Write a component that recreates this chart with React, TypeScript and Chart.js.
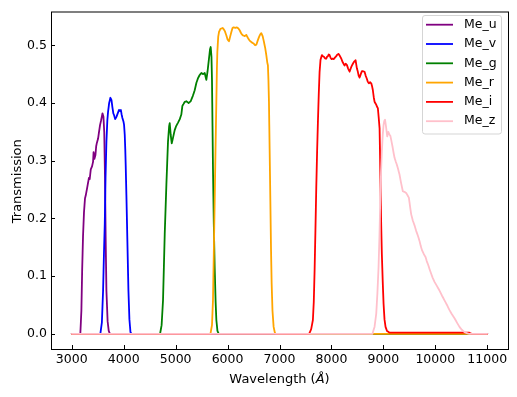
import { useEffect, useRef } from 'react';
import { Chart, registerables } from 'chart.js';

Chart.register(...registerables);

const xTickValues = [3000, 4000, 5000, 6000, 7000, 8000, 9000, 10000, 11000];
const yTickValues = [0, 0.1, 0.2, 0.3, 0.4, 0.5];
const seriesNames = ['Me_u', 'Me_v', 'Me_g', 'Me_r', 'Me_i', 'Me_z'];
const seriesColors = ['#800080', '#0000ff', '#008000', '#ffa500', '#ff0000', '#ffc0cb'];

const uWave = [3000, 3165, 3185, 3200, 3217, 3235, 3255, 3270, 3290, 3314, 3330, 3345, 3366, 3390, 3410, 3420, 3435, 3456, 3470, 3481, 3506, 3525, 3545, 3565, 3591, 3610, 3625, 3640, 3652, 3667, 3690, 3712, 3735, 11000];
const uTrans = [0, 0, 0.04, 0.11, 0.17, 0.21, 0.235, 0.24, 0.25, 0.262, 0.27, 0.268, 0.285, 0.29, 0.298, 0.315, 0.303, 0.31, 0.325, 0.33, 0.338, 0.35, 0.362, 0.37, 0.382, 0.376, 0.35, 0.27, 0.17, 0.075, 0.022, 0.005, 0, 0];

const vWave = [3000, 3550, 3580, 3603, 3620, 3635, 3650, 3667, 3685, 3699, 3720, 3744, 3765, 3782, 3800, 3814, 3835, 3860, 3885, 3910, 3930, 3945, 3960, 3975, 3995, 4007, 4020, 4030, 4039, 4052, 4064, 4078, 4091, 4110, 4130, 4150, 11000];
const vTrans = [0, 0, 0.02, 0.075, 0.14, 0.19, 0.27, 0.333, 0.37, 0.385, 0.4, 0.409, 0.405, 0.393, 0.382, 0.379, 0.372, 0.376, 0.382, 0.388, 0.386, 0.388, 0.38, 0.374, 0.368, 0.362, 0.345, 0.32, 0.29, 0.24, 0.19, 0.13, 0.075, 0.025, 0.003, 0, 0];

const gWave = [3000, 4700, 4730, 4757, 4790, 4822, 4853, 4875, 4886, 4905, 4925, 4950, 4982, 5010, 5046, 5080, 5110, 5130, 5150, 5175, 5207, 5250, 5290, 5330, 5367, 5400, 5431, 5460, 5495, 5525, 5560, 5591, 5615, 5640, 5662, 5675, 5690, 5700, 5710, 5719, 5735, 5752, 5770, 5784, 5805, 5830, 11000];
const gTrans = [0, 0, 0.015, 0.058, 0.173, 0.259, 0.333, 0.36, 0.365, 0.345, 0.33, 0.34, 0.353, 0.36, 0.366, 0.372, 0.38, 0.395, 0.398, 0.402, 0.403, 0.4, 0.403, 0.412, 0.422, 0.435, 0.443, 0.448, 0.452, 0.45, 0.452, 0.44, 0.455, 0.475, 0.493, 0.497, 0.48, 0.44, 0.36, 0.287, 0.19, 0.115, 0.055, 0.024, 0.005, 0, 0];

const rWave = [3000, 5670, 5700, 5719, 5735, 5752, 5768, 5784, 5795, 5803, 5820, 5835, 5860, 5880, 5905, 5925, 5950, 5977, 6000, 6027, 6050, 6073, 6095, 6117, 6150, 6181, 6210, 6233, 6265, 6296, 6330, 6361, 6390, 6425, 6465, 6502, 6530, 6554, 6580, 6605, 6630, 6650, 6675, 6700, 6725, 6746, 6765, 6777, 6787, 6797, 6810, 6824, 6836, 6849, 6865, 6887, 6910, 6930, 11000];
const rTrans = [0, 0, 0.015, 0.058, 0.14, 0.23, 0.32, 0.402, 0.46, 0.488, 0.515, 0.523, 0.528, 0.529, 0.53, 0.528, 0.524, 0.517, 0.51, 0.507, 0.515, 0.523, 0.53, 0.531, 0.53, 0.531, 0.529, 0.526, 0.52, 0.517, 0.516, 0.518, 0.513, 0.508, 0.505, 0.503, 0.5, 0.501, 0.508, 0.514, 0.519, 0.521, 0.516, 0.506, 0.495, 0.483, 0.47, 0.465, 0.44, 0.402, 0.32, 0.23, 0.15, 0.087, 0.04, 0.012, 0.002, 0, 0];

const iWave = [3000, 7570, 7610, 7643, 7660, 7676, 7692, 7708, 7724, 7740, 7756, 7772, 7790, 7817, 7835, 7856, 7880, 7901, 7915, 7932, 7948, 7964, 7985, 8003, 8025, 8047, 8070, 8093, 8115, 8138, 8165, 8189, 8220, 8253, 8275, 8297, 8320, 8349, 8380, 8413, 8440, 8465, 8490, 8509, 8525, 8542, 8565, 8586, 8610, 8638, 8660, 8682, 8700, 8721, 8745, 8767, 8785, 8798, 8815, 8831, 8850, 8863, 8880, 8894, 8910, 8927, 8936, 8946, 8958, 8971, 8988, 9004, 9022, 9042, 9070, 9119, 10650, 10700, 11000];
const iTrans = [0, 0, 0.008, 0.024, 0.055, 0.11, 0.18, 0.253, 0.315, 0.368, 0.415, 0.454, 0.475, 0.483, 0.481, 0.48, 0.477, 0.477, 0.48, 0.481, 0.484, 0.483, 0.478, 0.476, 0.477, 0.476, 0.479, 0.481, 0.484, 0.485, 0.481, 0.477, 0.47, 0.465, 0.468, 0.466, 0.46, 0.454, 0.462, 0.468, 0.472, 0.474, 0.46, 0.454, 0.447, 0.444, 0.45, 0.455, 0.455, 0.454, 0.447, 0.442, 0.437, 0.434, 0.436, 0.434, 0.428, 0.422, 0.41, 0.402, 0.399, 0.397, 0.393, 0.391, 0.375, 0.356, 0.31, 0.253, 0.19, 0.138, 0.09, 0.052, 0.025, 0.012, 0.005, 0.002, 0.002, 0, 0];

const zWave = [3000, 8790, 8830, 8863, 8885, 8907, 8925, 8940, 8955, 8971, 8988, 9004, 9018, 9032, 9050, 9074, 9095, 9119, 9135, 9151, 9175, 9200, 9215, 9240, 9260, 9285, 9311, 9340, 9375, 9407, 9440, 9465, 9491, 9515, 9536, 9568, 9600, 9633, 9665, 9696, 9720, 9748, 9780, 9812, 9835, 9857, 9890, 9921, 9950, 9985, 10030, 10081, 10130, 10177, 10225, 10274, 10320, 10370, 10420, 10466, 10510, 10562, 10610, 10660, 11000];
const zTrans = [0, 0, 0.012, 0.035, 0.07, 0.115, 0.17, 0.23, 0.28, 0.316, 0.345, 0.362, 0.369, 0.371, 0.36, 0.342, 0.35, 0.345, 0.343, 0.336, 0.325, 0.312, 0.305, 0.298, 0.293, 0.285, 0.276, 0.262, 0.247, 0.246, 0.244, 0.24, 0.236, 0.22, 0.207, 0.196, 0.188, 0.178, 0.17, 0.161, 0.152, 0.144, 0.138, 0.133, 0.126, 0.121, 0.112, 0.104, 0.097, 0.09, 0.083, 0.075, 0.066, 0.058, 0.05, 0.041, 0.034, 0.027, 0.019, 0.012, 0.007, 0.003, 0.001, 0, 0];

const FONT = "'DejaVu Sans', sans-serif";

const framePlugin = {
  id: 'mplFrame',
  afterDatasetsDraw(chart: any) {
    const { ctx, chartArea } = chart;
    const { left, right, top, bottom } = chartArea;
    ctx.save();
    ctx.strokeStyle = '#000';
    ctx.lineWidth = 1;
    ctx.strokeRect(left + 0.5, top + 0.5, right - left, bottom - top);
    const xs = chart.scales.x;
    const ys = chart.scales.y;
    ctx.beginPath();
    xTickValues.forEach((v) => {
      const px = Math.round(xs.getPixelForValue(v)) + 0.5;
      ctx.moveTo(px, bottom);
      ctx.lineTo(px, bottom - 4);
    });
    yTickValues.forEach((v) => {
      const py = Math.round(ys.getPixelForValue(v)) + 0.5;
      ctx.moveTo(left, py);
      ctx.lineTo(left + 4, py);
    });
    ctx.stroke();
    ctx.restore();
  },
};

const titlesPlugin = {
  id: 'mplTitles',
  afterDraw(chart: any) {
    const { ctx, chartArea } = chart;
    ctx.save();
    ctx.fillStyle = '#000';
    const cx = (chartArea.left + chartArea.right) / 2;
    const base = 383;
    const part1 = 'Wavelength (';
    const part2 = 'Å';
    const part3 = ')';
    ctx.font = `13px ${FONT}`;
    const w1 = ctx.measureText(part1).width;
    const w3 = ctx.measureText(part3).width;
    ctx.font = `oblique 13px ${FONT}`;
    const w2 = ctx.measureText(part2).width;
    let x = cx - (w1 + w2 + w3) / 2;
    ctx.textBaseline = 'alphabetic';
    ctx.textAlign = 'left';
    ctx.font = `13px ${FONT}`;
    ctx.fillText(part1, x, base);
    x += w1;
    ctx.font = `oblique 13px ${FONT}`;
    ctx.fillText(part2, x, base);
    x += w2;
    ctx.font = `13px ${FONT}`;
    ctx.fillText(part3, x, base);

    ctx.translate(20.5, (chartArea.top + chartArea.bottom) / 2 + 1);
    ctx.rotate(-Math.PI / 2);
    ctx.textAlign = 'center';
    ctx.fillText('Transmission', 0, 0);
    ctx.restore();
  },
};

const legendPlugin = {
  id: 'mplLegend',
  afterDraw(chart: any) {
    const { ctx } = chart;
    ctx.save();
    const x0 = 422.5;
    const y0 = 15.5;
    const w = 79;
    const h = 118.5;
    const r = 2.5;
    ctx.beginPath();
    ctx.moveTo(x0 + r, y0);
    ctx.lineTo(x0 + w - r, y0);
    ctx.arcTo(x0 + w, y0, x0 + w, y0 + r, r);
    ctx.lineTo(x0 + w, y0 + h - r);
    ctx.arcTo(x0 + w, y0 + h, x0 + w - r, y0 + h, r);
    ctx.lineTo(x0 + r, y0 + h);
    ctx.arcTo(x0, y0 + h, x0, y0 + h - r, r);
    ctx.lineTo(x0, y0 + r);
    ctx.arcTo(x0, y0, x0 + r, y0, r);
    ctx.closePath();
    ctx.fillStyle = 'rgba(255,255,255,0.8)';
    ctx.fill();
    ctx.strokeStyle = '#d5d5d5';
    ctx.lineWidth = 1;
    ctx.stroke();
    ctx.font = `12.5px ${FONT}`;
    ctx.textBaseline = 'middle';
    ctx.textAlign = 'left';
    seriesNames.forEach((name, i) => {
      const cy = 24.7 + i * 19.3;
      ctx.strokeStyle = seriesColors[i];
      ctx.lineWidth = 1.8;
      ctx.beginPath();
      ctx.moveTo(426, cy);
      ctx.lineTo(453, cy);
      ctx.stroke();
      ctx.fillStyle = '#000';
      ctx.fillText(name, 464, cy);
    });
    ctx.restore();
  },
};

export default function App() {
  const ref = useRef<HTMLCanvasElement>(null);
  useEffect(() => {
    const waves = [uWave, vWave, gWave, rWave, iWave, zWave];
    const trans = [uTrans, vTrans, gTrans, rTrans, iTrans, zTrans];
    const datasets = seriesNames.map((name, i) => ({
      label: name,
      data: waves[i].map((w, j) => ({ x: w, y: trans[i][j] })),
      borderColor: seriesColors[i],
      backgroundColor: seriesColors[i],
      borderWidth: 1.8,
      pointRadius: 0,
      pointHoverRadius: 0,
      showLine: true,
      fill: false,
      tension: 0.0001,
      order: seriesNames.length - i,
      borderJoinStyle: 'round' as const,
      borderCapStyle: 'round' as const,
    }));
    const chart = new Chart(ref.current as HTMLCanvasElement, {
      type: 'scatter',
      data: { datasets },
      options: {
        responsive: false,
        animation: false,
        devicePixelRatio: 1,
        layout: { padding: { top: 9, right: 9, left: 0, bottom: 0 } },
        plugins: { legend: { display: false }, tooltip: { enabled: false } },
        scales: {
          x: {
            type: 'linear',
            min: 2600,
            max: 11400,
            grid: { display: false, drawTicks: false },
            border: { display: false },
            afterBuildTicks: (scale: any) => {
              scale.ticks = xTickValues.map((v) => ({ value: v }));
            },
            afterFit: (scale: any) => {
              scale.height = 48;
            },
            ticks: {
              autoSkip: false,
              maxRotation: 0,
              padding: 3,
              color: '#000',
              font: { family: FONT, size: 12.5 },
              callback: (v: any) => String(v),
            },
          },
          y: {
            type: 'linear',
            min: -0.0263,
            max: 0.5585,
            grid: { display: false, drawTicks: false },
            border: { display: false },
            afterBuildTicks: (scale: any) => {
              scale.ticks = yTickValues.map((v) => ({ value: v }));
            },
            afterFit: (scale: any) => {
              scale.width = 51;
            },
            ticks: {
              autoSkip: false,
              padding: 4,
              color: '#000',
              font: { family: FONT, size: 12.5 },
              callback: (v: any) => Number(v).toFixed(1),
            },
          },
        },
      },
      plugins: [framePlugin, titlesPlugin, legendPlugin],
    });
    return () => chart.destroy();
  }, []);
  return (
    <div style={{ position: 'fixed', left: 0, top: 0, width: 517, height: 397, background: '#fff' }}>
      <canvas ref={ref} width={517} height={397} style={{ display: 'block' }} />
    </div>
  );
}
